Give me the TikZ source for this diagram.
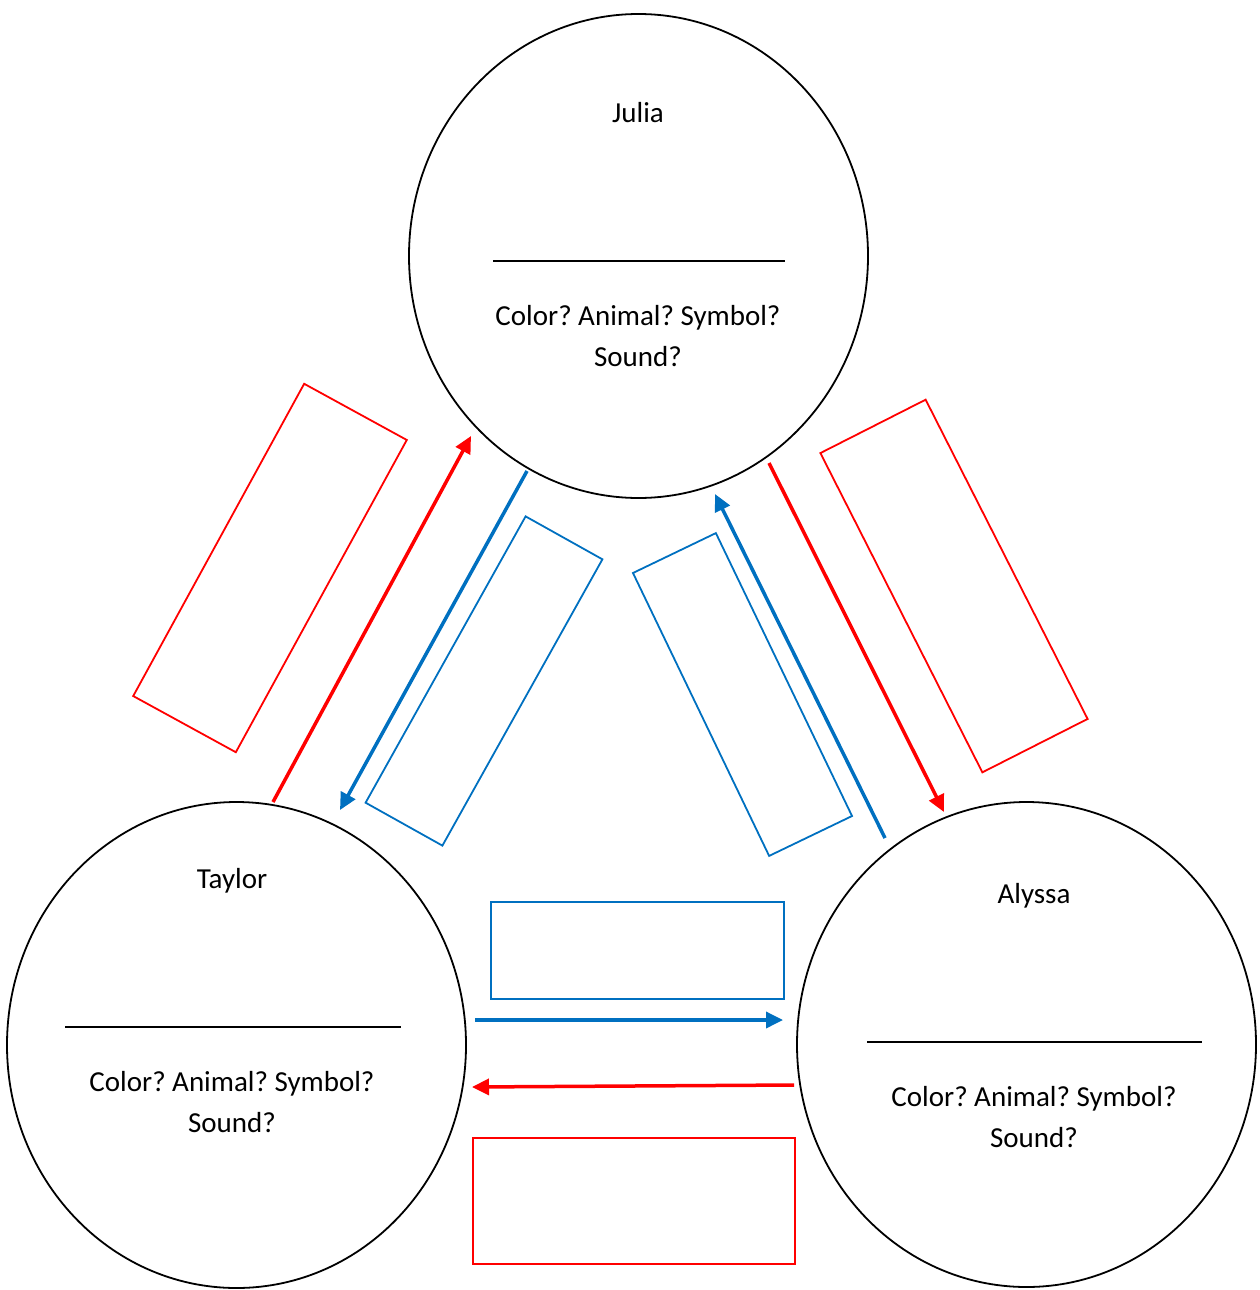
\documentclass[tikz,border=0pt]{standalone}
\usepackage{fontspec}
\setmainfont{Carlito}
\usetikzlibrary{shapes.geometric,arrows.meta}
\definecolor{myblue}{RGB}{0,112,192}
\definecolor{myred}{RGB}{255,0,0}
\frenchspacing
\begin{document}
\begin{tikzpicture}[x=1pt,y=-1pt,
  person/.style={draw=black,line width=1.8pt,ellipse,inner sep=0pt,minimum width=459pt},
  label/.style={anchor=base,inner sep=0pt,font=\fontsize{29}{34}\selectfont},
  blank/.style={anchor=center,inner sep=0pt},
  redbox/.style={draw=myred,line width=1.8pt,rectangle,inner sep=0pt},
  bluebox/.style={draw=myblue,line width=1.8pt,rectangle,inner sep=0pt},
  redarr/.style={draw=myred,line width=3.5pt,-{Triangle[length=17pt,width=16pt]}},
  bluearr/.style={draw=myblue,line width=3.5pt,-{Triangle[length=17pt,width=16pt]}}]
\useasboundingbox (0,0) rectangle (1259,1290);

% circles
\node[person,minimum height=484pt] (julia) at (638.5,256) {};
\node[person,minimum height=486pt] (taylor) at (236.5,1045) {};
\node[person,minimum height=485pt] (alyssa) at (1026.5,1044.5) {};

% Julia texts
\node[label] (jn) at (638,122) {Julia};
\node[blank] (jl) at (639,261) {\rule{292pt}{1.6pt}};
\node[label] (jc) at (638,325) {Color? Animal? Symbol?};
\node[label] (js) at (638,366) {Sound?};

% Taylor texts
\node[label] (tn) at (232,888) {Taylor};
\node[blank] (tl) at (233,1027) {\rule{336pt}{1.6pt}};
\node[label] (tc) at (232,1091) {Color? Animal? Symbol?};
\node[label] (ts) at (232,1132) {Sound?};

% Alyssa texts
\node[label] (an) at (1034,903) {Alyssa};
\node[blank] (al) at (1034.5,1042) {\rule{335pt}{1.6pt}};
\node[label] (ac) at (1034,1106) {Color? Animal? Symbol?};
\node[label] (as) at (1034,1147) {Sound?};

% rotated boxes
\node[redbox,minimum width=117pt,minimum height=356pt,rotate=-28.7] (rb1) at (270,568) {};
\node[bluebox,minimum width=88pt,minimum height=328pt,rotate=-29.2] (bb1) at (484,681) {};
\node[bluebox,minimum width=92pt,minimum height=314pt,rotate=25.7] (bb2) at (742.5,694.5) {};
\node[redbox,minimum width=118pt,minimum height=358pt,rotate=26.9] (rb2) at (954,586) {};
% horizontal boxes
\node[bluebox,minimum width=293pt,minimum height=97pt] (bb3) at (637.5,950.5) {};
\node[redbox,minimum width=322pt,minimum height=126pt] (rb3) at (634,1201) {};

% arrow end points
\coordinate (a1s) at (273,802);
\coordinate (a1e) at (471,436);
\coordinate (a2s) at (527,471);
\coordinate (a2e) at (340,810);
\coordinate (a3s) at (885,838);
\coordinate (a3e) at (715,494);
\coordinate (a4s) at (769,463);
\coordinate (a4e) at (944,812);
\coordinate (a5s) at (475,1020);
\coordinate (a5e) at (783,1020);
\coordinate (a6s) at (794,1085);
\coordinate (a6e) at (472,1087);

\draw[redarr] (a1s) -- (a1e);
\draw[bluearr] (a2s) -- (a2e);
\draw[bluearr] (a3s) -- (a3e);
\draw[redarr] (a4s) -- (a4e);
\draw[bluearr] (a5s) -- (a5e);
\draw[redarr] (a6s) -- (a6e);
\end{tikzpicture}
\end{document}
